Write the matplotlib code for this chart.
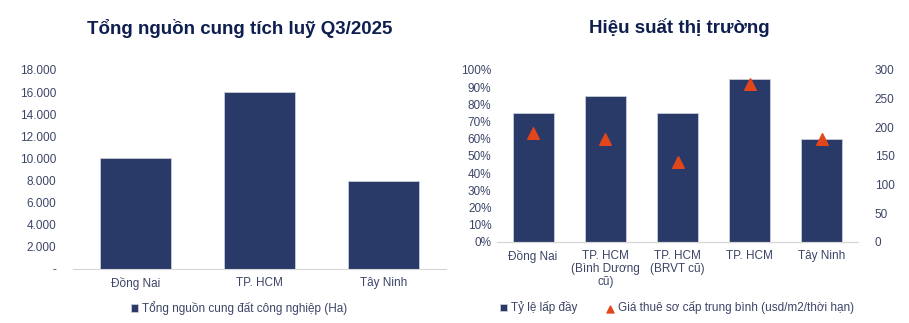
import numpy as np
from matplotlib import pyplot as plt
from matplotlib.ticker import FuncFormatter

# data
supply_cats = ["Đồng Nai", "TP. HCM", "Tây Ninh"]
supply_vals = [10000, 16000, 8000]

perf_cats = ["Đồng Nai", "TP. HCM\n(Bình Dương\ncũ)", "TP. HCM\n(BRVT cũ)", "TP. HCM", "Tây Ninh"]
occupancy = [0.75, 0.85, 0.75, 0.95, 0.60]
rent = [190, 180, 140, 275, 180]

bar_col = "#293a69"
tri_col = "#e2461c"
title_col = "#0e1f4f"
tick_col = "#3c4566"

plt.rcParams['font.family'] = ['Liberation Sans', 'DejaVu Sans']

fig = plt.figure(figsize=(9.09, 3.23), dpi=100)

def px(x0, y0, x1, y1):
    W, H = 909, 323
    return [x0 / W, 1 - y1 / H, (x1 - x0) / W, (y1 - y0) / H]

# left chart
ax1 = fig.add_axes(px(73, 70, 446, 269))
x = np.arange(len(supply_cats))
bl = ax1.bar(x, supply_vals, width=0.57, color=bar_col, edgecolor="#c9cdd8", linewidth=0.6,
             label="Tổng nguồn cung đất công nghiệp (Ha)")
ax1.set_xlim(-0.5, len(supply_cats) - 0.5)
ax1.set_ylim(0, 18000)
ax1.set_yticks(np.arange(0, 18001, 2000))
ax1.yaxis.set_major_formatter(FuncFormatter(lambda v, p: "-" if v == 0 else f"{int(v):,}".replace(",", ".")))
ax1.set_xticks(x)
ax1.set_xticklabels(supply_cats)
for s in ["top", "right", "left"]:
    ax1.spines[s].set_visible(False)
ax1.spines["bottom"].set_color("#d6d6d6")
ax1.tick_params(axis="both", length=0, labelsize=8.5, colors=tick_col)
ax1.tick_params(axis="y", pad=12)
ax1.tick_params(axis="x", pad=6)
fig.text(240 / 909, 1 - 28 / 323, "Tổng nguồn cung tích luỹ Q3/2025", ha="center", va="center",
         fontsize=13.5, fontweight="bold", color=title_col)
fig.legend([bl], [bl.get_label()], loc="center", bbox_to_anchor=(239 / 909, 1 - 308 / 323),
           frameon=False, fontsize=8.5, handlelength=0.6, handleheight=0.6, handletextpad=0.3,
           labelcolor=tick_col)

# right chart
ax2 = fig.add_axes(px(497, 70, 858, 242))
x2 = np.arange(len(perf_cats))
b = ax2.bar(x2, occupancy, width=0.57, color=bar_col, edgecolor="#c9cdd8", linewidth=0.6,
            label="Tỷ lệ lấp đầy")
ax2.set_xlim(-0.5, len(perf_cats) - 0.5)
ax2.set_ylim(0, 1)
ax2.set_yticks(np.arange(0, 1.01, 0.1))
ax2.yaxis.set_major_formatter(FuncFormatter(lambda v, p: f"{v * 100:.0f}%"))
ax2.set_xticks(x2)
ax2.set_xticklabels(perf_cats, linespacing=1.1)
ax2b = ax2.twinx()
t = ax2b.scatter(x2, rent, marker="^", s=70, color=tri_col, zorder=3,
                 label="Giá thuê sơ cấp trung bình (usd/m2/thời hạn)")
ax2b.set_ylim(0, 300)
ax2b.set_yticks(np.arange(0, 301, 50))
for a in (ax2, ax2b):
    for s in ["top", "right", "left"]:
        a.spines[s].set_visible(False)
    a.spines["bottom"].set_color("#d6d6d6")
    a.tick_params(axis="both", length=0, labelsize=8.5, colors=tick_col)
ax2.tick_params(axis="y", pad=4)
ax2b.tick_params(axis="y", pad=12)
ax2.tick_params(axis="x", pad=6)
fig.text(679 / 909, 1 - 28 / 323, "Hiệu suất thị trường", ha="center", va="center",
         fontsize=13.5, fontweight="bold", color=title_col)
fig.legend([b, t], [b.get_label(), t.get_label()], loc="center", bbox_to_anchor=(677 / 909, 1 - 308 / 323),
           ncol=2, frameon=False, fontsize=8.5, handlelength=0.6, handleheight=0.6, handletextpad=0.3,
           columnspacing=2.5, labelcolor=tick_col, markerscale=0.6)

fig.savefig("out.png", dpi=100)
